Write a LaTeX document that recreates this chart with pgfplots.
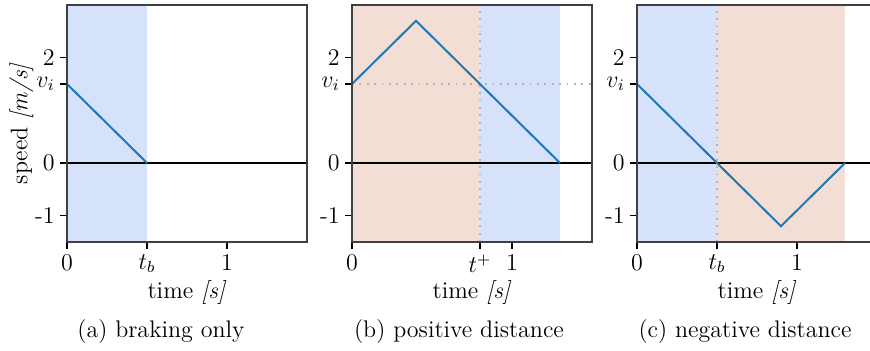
\documentclass[border=0pt]{standalone}
\usepackage{pgfplots}
\pgfplotsset{compat=1.18}
\definecolor{lineblue}{HTML}{1F77B4}
\definecolor{shadeblue}{RGB}{214,226,250}
\definecolor{shadeorange}{RGB}{242,222,212}
\definecolor{dotgray}{RGB}{178,178,178}
\pgfplotsset{
 panel/.style={
  scale only axis, width=120pt, height=118.5pt,
  xmin=0,xmax=1.5,ymin=-1.5,ymax=3,
  axis on top,
  tick align=outside, xtick pos=left, ytick pos=left,
  major tick length=3.5pt,
  every tick/.style={black, line width=0.6pt},
  axis line style={black!75, line width=0.6pt},
  ytick={-1,0,1.5,2}, yticklabels={-1,0,$v_i$,2},
  yticklabel style={xshift=1.5pt},
  xticklabel style={yshift=1.5pt},
  xlabel={time \textit{[s]}},
  xlabel style={at={(axis description cs:0.5,0)}, anchor=base, yshift=-28pt},
  anchor=north west,
 },
 zero/.style={black, line width=1pt},
 dotline/.style={dotgray, line width=0.9pt, dash pattern=on 0.9pt off 2.8pt},
 speed/.style={lineblue, line width=1pt},
}
\begin{document}
\fontsize{12}{14.4}\selectfont
\begin{tikzpicture}
% (a)
\begin{axis}[panel, at={(33.5pt,0pt)}, xtick={0,0.5,1}, xticklabels={0,$t_b$,1},
  ylabel={speed \textit{[m/s]}}, ylabel style={at={(axis description cs:-0.19,0.5)}, anchor=center}]
\addplot[draw=none, fill=shadeblue] coordinates {(0,-1.5) (0,3) (0.5,3) (0.5,-1.5)} -- cycle;
\addplot[zero] coordinates {(0,0) (1.5,0)};
\addplot[speed] coordinates {(0,1.5) (0.5,0)};
\end{axis}
% (b)
\begin{axis}[panel, at={(176pt,0pt)}, xtick={0,0.8,1}, xticklabels={0,$t^+$,1}]
\addplot[draw=none, fill=shadeorange] coordinates {(0,-1.5) (0,3) (0.8,3) (0.8,-1.5)} -- cycle;
\addplot[draw=none, fill=shadeblue] coordinates {(0.8,-1.5) (0.8,3) (1.3,3) (1.3,-1.5)} -- cycle;
\addplot[dotline] coordinates {(0.8,-1.5) (0.8,3)};
\addplot[dotline] coordinates {(0,1.5) (1.5,1.5)};
\addplot[zero] coordinates {(0,0) (1.5,0)};
\addplot[speed] coordinates {(0,1.5) (0.4,2.7) (1.3,0)};
\end{axis}
% (c)
\begin{axis}[panel, at={(318.5pt,0pt)}, xtick={0,0.5,1}, xticklabels={0,$t_b$,1}]
\addplot[draw=none, fill=shadeblue] coordinates {(0,-1.5) (0,3) (0.5,3) (0.5,-1.5)} -- cycle;
\addplot[draw=none, fill=shadeorange] coordinates {(0.5,-1.5) (0.5,3) (1.3,3) (1.3,-1.5)} -- cycle;
\addplot[dotline] coordinates {(0.5,-1.5) (0.5,3)};
\addplot[zero] coordinates {(0,0) (1.5,0)};
\addplot[speed] coordinates {(0,1.5) (0.9,-1.2) (1.3,0)};
\end{axis}
\node[anchor=base] at (80.5pt,-166pt) {(a) braking only};
\node[anchor=base] at (229.5pt,-166pt) {(b) positive distance};
\node[anchor=base] at (372.5pt,-166pt) {(c) negative distance};
\pgfresetboundingbox
\useasboundingbox (0,-172.5pt) rectangle (435pt,2.5pt);
\end{tikzpicture}
\end{document}
